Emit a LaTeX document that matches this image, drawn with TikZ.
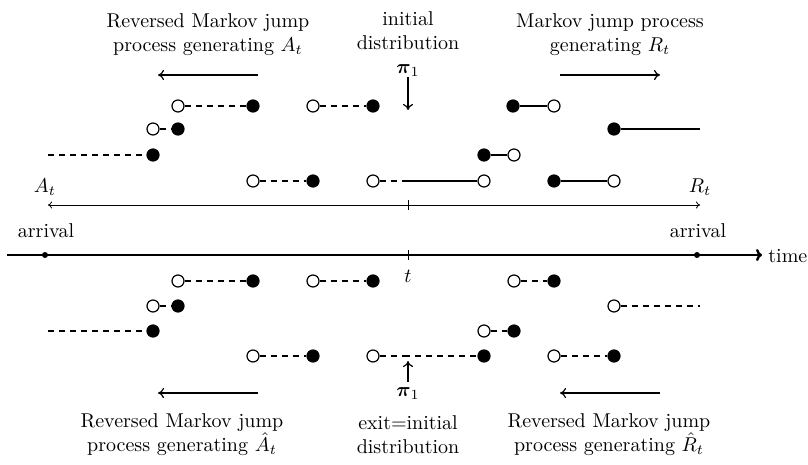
\documentclass[tikz,border=0pt]{standalone}
\usepackage{amsmath,amssymb}
\usetikzlibrary{arrows.meta}
\begin{document}
\begin{tikzpicture}[x=0.5pt,y=-0.5pt,
  every node/.style={font=\fontsize{10}{12}\selectfont},
  opn/.style={circle,draw,fill=white,line width=0.6pt,minimum size=6pt,inner sep=0pt},
  fil/.style={circle,draw,fill=black,line width=0.6pt,minimum size=6pt,inner sep=0pt},
  seg/.style={line width=0.6pt},
  dseg/.style={line width=0.6pt,dash pattern=on 3pt off 2.5pt},
  dirarrow/.style={line width=0.6pt,-{To[length=3pt,width=5pt]}},
  lbl/.style={align=center,inner sep=0pt},
  dot/.style={circle,fill=black,minimum size=3pt,inner sep=0pt}]
\useasboundingbox (0,0) rectangle (808,465);

% ---------- labels top ----------
\node[lbl] (tl) at (208,35) {Reversed Markov jump\\process generating $A_t$};
\node[lbl] (tc) at (408,44) {initial\\distribution\\$\boldsymbol{\pi}_1$};
\node[lbl] (tr) at (610,35) {Markov jump process\\generating $R_t$};
\coordinate (tcend) at (408,110);
\draw[dirarrow] (408,77) -- (tcend);
\coordinate (tla) at (258,75); \coordinate (tlb) at (158,75);
\draw[dirarrow] (tla) -- (tlb);
\coordinate (tra) at (560,75); \coordinate (trb) at (660,75);
\draw[dirarrow] (tra) -- (trb);

% ---------- top rows ----------
% row 1
\node[opn] (a11) at (178,106) {}; \node[fil] (a12) at (253,106) {};
\node[opn] (a13) at (313,106) {}; \node[fil] (a14) at (373,106) {};
\node[fil] (a15) at (513,106) {}; \node[opn] (a16) at (554,106) {};
\draw[dseg] (a11) -- (a12); \draw[dseg] (a13) -- (a14); \draw[seg] (a15) -- (a16);
% row 2
\node[opn] (a21) at (153,129) {}; \node[fil] (a22) at (178,129) {};
\node[fil] (a23) at (614,129) {}; \coordinate (a24) at (700,129);
\draw[dseg] (a21) -- (a22); \draw[seg] (a23) -- (a24);
% row 3
\coordinate (a30) at (48,155); \node[fil] (a31) at (153,155) {};
\node[fil] (a32) at (484,155) {}; \node[opn] (a33) at (514,155) {};
\draw[dseg] (a30) -- (a31); \draw[seg] (a32) -- (a33);
% row 4
\node[opn] (a41) at (253,181) {}; \node[fil] (a42) at (313,181) {};
\node[opn] (a43) at (373,181) {}; \coordinate (a4m) at (406,181); \node[opn] (a44) at (484,181) {};
\node[fil] (a45) at (554,181) {}; \node[opn] (a46) at (614,181) {};
\draw[dseg] (a41) -- (a42); \draw[dseg] (a43) -- (a4m); \draw[seg] (a4m) -- (a44);
\draw[seg] (a45) -- (a46);

% ---------- thin axis ----------
\node[inner sep=0pt] (At) at (45,187) {$A_t$};
\node[inner sep=0pt] (Rt) at (700,187) {$R_t$};
\coordinate (axl) at (48,205); \coordinate (axr) at (700,205);
\draw[line width=0.4pt,{To[length=2pt,width=3.5pt]}-{To[length=2pt,width=3.5pt]}] (axl) -- (axr);
\draw[line width=0.4pt] (408,200) -- (408,210);

% ---------- main axis ----------
\node[inner sep=0pt] (arrL) at (46,231) {arrival};
\node[inner sep=0pt] (arrR) at (698,231) {arrival};
\coordinate (m0) at (7,255); \coordinate (m1) at (762,255);
\draw[line width=1.2pt,-{To[length=3pt,width=6pt]}] (m0) -- (m1);
\node[dot] (d1) at (45,255) {}; \node[dot] (d2) at (697,255) {};
\draw[line width=0.4pt] (408,250) -- (408,260);
\node[inner sep=0pt,anchor=west] (time) at (768,256) {time};
\node[inner sep=0pt] (tt) at (408,276) {$t$};

% ---------- bottom rows ----------
% row 1
\node[opn] (b11) at (178,281) {}; \node[fil] (b12) at (253,281) {};
\node[opn] (b13) at (313,281) {}; \node[fil] (b14) at (373,281) {};
\node[opn] (b15) at (514,281) {}; \node[fil] (b16) at (554,281) {};
\draw[dseg] (b11) -- (b12); \draw[dseg] (b13) -- (b14); \draw[dseg] (b15) -- (b16);
% row 2
\node[opn] (b21) at (153,306) {}; \node[fil] (b22) at (178,306) {};
\node[opn] (b23) at (614,306) {}; \coordinate (b24) at (700,306);
\draw[dseg] (b21) -- (b22); \draw[dseg] (b23) -- (b24);
% row 3
\coordinate (b30) at (48,331); \node[fil] (b31) at (153,331) {};
\node[opn] (b32) at (484,331) {}; \node[fil] (b33) at (514,331) {};
\draw[dseg] (b30) -- (b31); \draw[dseg] (b32) -- (b33);
% row 4
\node[opn] (b41) at (253,356) {}; \node[fil] (b42) at (313,356) {};
\node[opn] (b43) at (373,356) {}; \coordinate (b4m) at (404,356); \node[fil] (b44) at (484,356) {};
\node[opn] (b45) at (554,356) {}; \node[fil] (b46) at (614,356) {};
\draw[dseg] (b41) -- (b42); \draw[dseg] (b43) -- (b4m); \draw[dseg] (b4m) -- (b44);
\draw[dseg] (b45) -- (b46);

% ---------- labels bottom ----------
\node[inner sep=0pt] (pib) at (408,394) {$\boldsymbol{\pi}_1$};
\coordinate (pibend) at (408,361);
\draw[dirarrow] (408,382) -- (pibend);
\coordinate (bla) at (258,393); \coordinate (blb) at (158,393);
\draw[dirarrow] (bla) -- (blb);
\coordinate (bra) at (660,393); \coordinate (brb) at (560,393);
\draw[dirarrow] (bra) -- (brb);
\node[lbl] (bl) at (182,435) {Reversed Markov jump\\process generating $\hat{A}_t$};
\node[lbl] (bc) at (408,435) {exit=initial\\distribution};
\node[lbl] (br) at (609,435) {Reversed Markov jump\\process generating $\hat{R}_t$};
\end{tikzpicture}
\end{document}
